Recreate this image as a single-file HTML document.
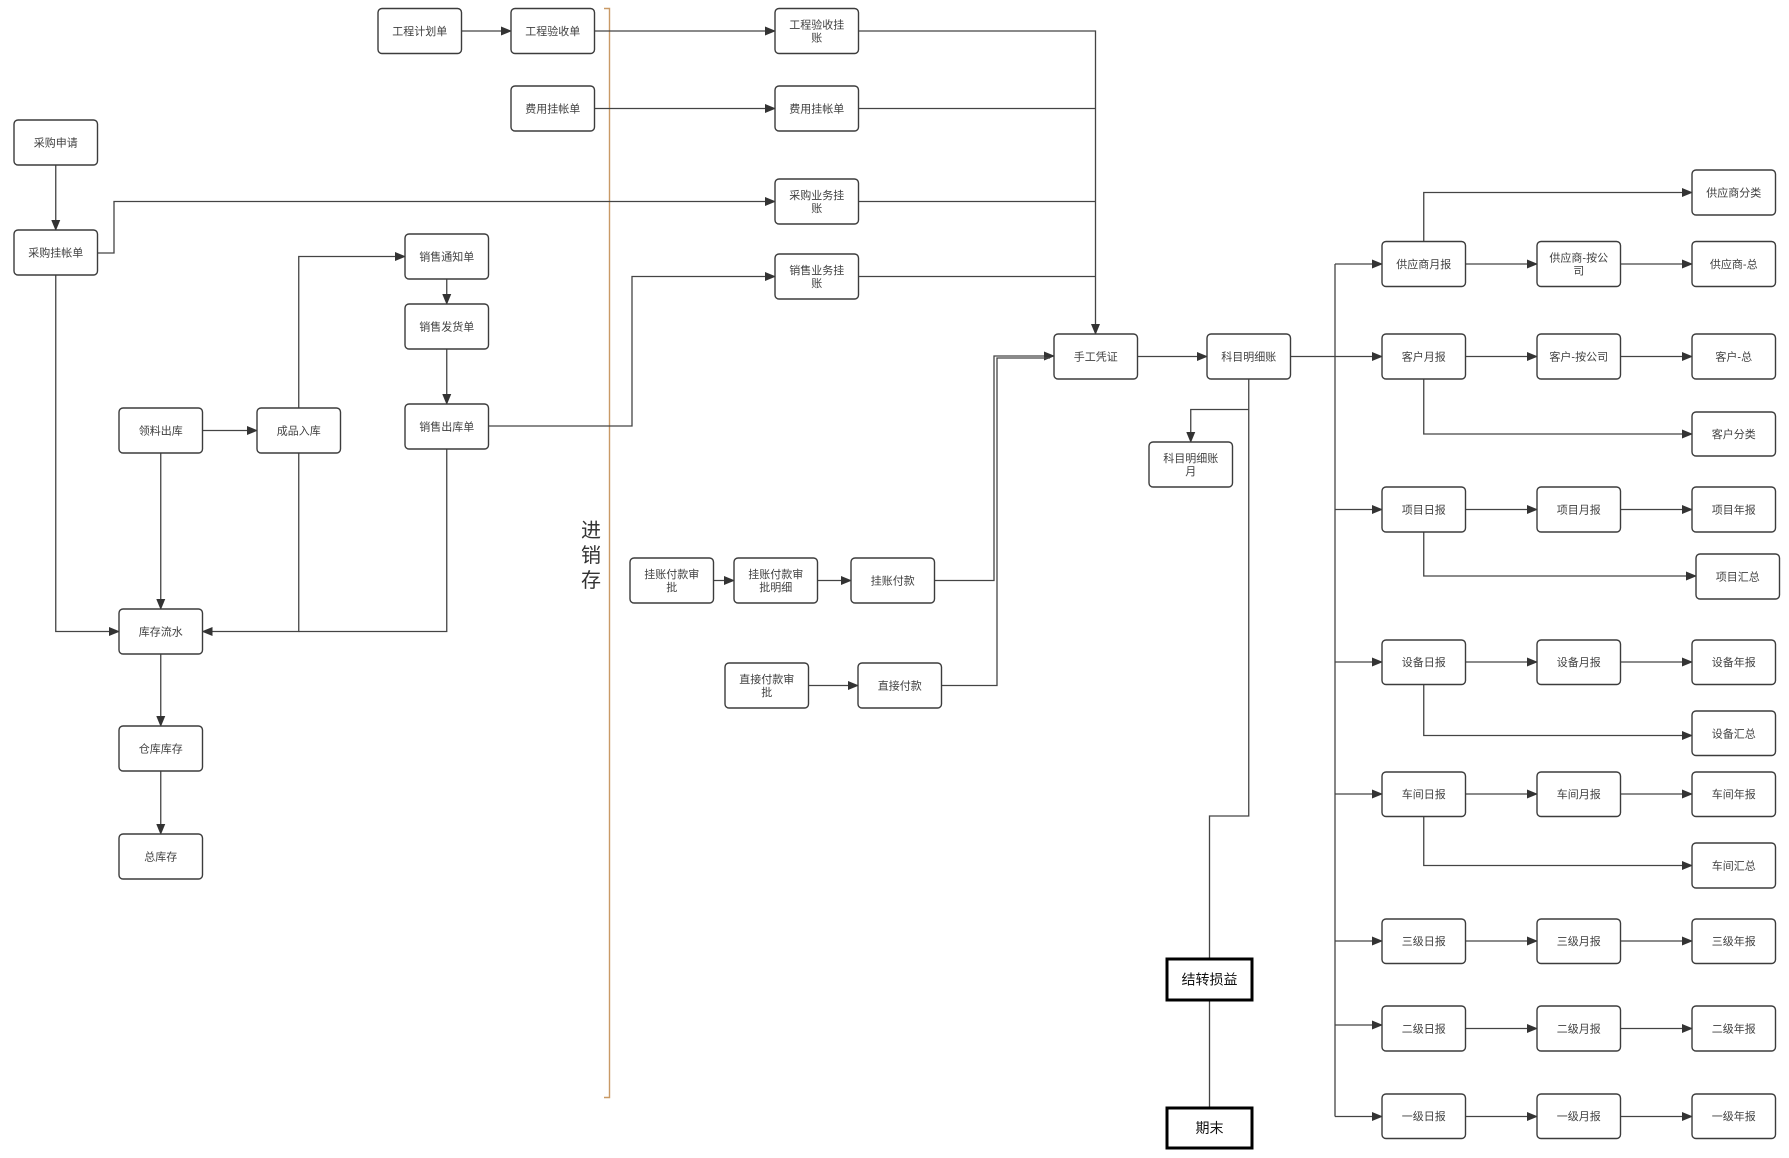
<!DOCTYPE html>
<html><head><meta charset="utf-8"><style>
html,body{margin:0;padding:0;background:#fff;}
svg{display:block;}
.b{fill:#fff;stroke:#3c3c3c;stroke-width:1.4;}
.k{fill:#fff;stroke:#000;stroke-width:3;}
.l{fill:none;stroke:#444;stroke-width:1.3;}
text{font-family:"Liberation Sans","Noto Sans CJK SC",sans-serif;font-size:11px;fill:#404040;text-anchor:middle;}
.big{font-size:14px;fill:#111;}
.jx{font-size:20px;fill:#333;}
</style></head><body>
<svg width="1789" height="1158" viewBox="0 0 1789 1158" xmlns="http://www.w3.org/2000/svg">
<defs>
<marker id="a" markerUnits="userSpaceOnUse" markerWidth="11" markerHeight="9" refX="10" refY="4.5" orient="auto">
<path d="M0,0 L11,4.5 L0,9 z" fill="#333"/>
</marker>
</defs>

<!-- orange bracket -->
<path d="M604,8.5 H609.5 V1097.5 H604" fill="none" stroke="#c99a66" stroke-width="1.4"/>
<text class="jx" x="591" y="537">进</text>
<text class="jx" x="591" y="562">销</text>
<text class="jx" x="591" y="587">存</text>

<!-- connectors -->
<g class="l">
<path d="M461,31 H511" marker-end="url(#a)"/>
<path d="M595,31 H775" marker-end="url(#a)"/>
<path d="M858.5,31 H1095.5 V334" marker-end="url(#a)"/>
<path d="M595,108.5 H775" marker-end="url(#a)"/>
<path d="M858.5,108.5 H1095.5"/>
<path d="M97.5,253 H114 V201.5 H775" marker-end="url(#a)"/>
<path d="M858.5,201.5 H1095.5"/>
<path d="M488.5,426 H632 V276.5 H775" marker-end="url(#a)"/>
<path d="M858.5,276.5 H1095.5"/>
<path d="M55.75,165 V230" marker-end="url(#a)"/>
<path d="M55.75,275 V631.5 H119" marker-end="url(#a)"/>
<path d="M202.5,430.5 H257" marker-end="url(#a)"/>
<path d="M160.75,453 V609" marker-end="url(#a)"/>
<path d="M298.75,453 V631.5 H202.5" marker-end="url(#a)"/>
<path d="M446.75,449 V631.5 H298.75"/>
<path d="M298.75,408 V256.5 H405" marker-end="url(#a)"/>
<path d="M446.75,279 V304" marker-end="url(#a)"/>
<path d="M446.75,349 V404" marker-end="url(#a)"/>
<path d="M160.75,654 V726" marker-end="url(#a)"/>
<path d="M160.75,771 V834" marker-end="url(#a)"/>
<path d="M713.5,580.5 H734" marker-end="url(#a)"/>
<path d="M817.5,580.5 H851" marker-end="url(#a)"/>
<path d="M934.5,580.5 H994 V356 H1054" marker-end="url(#a)"/>
<path d="M808.5,685.5 H858" marker-end="url(#a)"/>
<path d="M941.5,685.5 H997 V358 H1050"/>
<path d="M1137.5,356.5 H1207" marker-end="url(#a)"/>
<path d="M1290.5,356.5 H1335"/>
<path d="M1335,264 V1116.5"/>
<!-- bus arrows -->
<path d="M1335,264 H1382" marker-end="url(#a)"/>
<path d="M1335,356.5 H1382" marker-end="url(#a)"/>
<path d="M1335,509.5 H1382" marker-end="url(#a)"/>
<path d="M1335,662 H1382" marker-end="url(#a)"/>
<path d="M1335,794 H1382" marker-end="url(#a)"/>
<path d="M1335,941 H1382" marker-end="url(#a)"/>
<path d="M1335,1025 H1382" marker-end="url(#a)"/>
<path d="M1335,1116.5 H1382" marker-end="url(#a)"/>
<!-- row arrows -->
<path d="M1465.5,264 H1537" marker-end="url(#a)"/>
<path d="M1620.5,264 H1692" marker-end="url(#a)"/>
<path d="M1465.5,356.5 H1537" marker-end="url(#a)"/>
<path d="M1620.5,356.5 H1692" marker-end="url(#a)"/>
<path d="M1465.5,509.5 H1537" marker-end="url(#a)"/>
<path d="M1620.5,509.5 H1692" marker-end="url(#a)"/>
<path d="M1465.5,662 H1537" marker-end="url(#a)"/>
<path d="M1620.5,662 H1692" marker-end="url(#a)"/>
<path d="M1465.5,794 H1537" marker-end="url(#a)"/>
<path d="M1620.5,794 H1692" marker-end="url(#a)"/>
<path d="M1465.5,941 H1537" marker-end="url(#a)"/>
<path d="M1620.5,941 H1692" marker-end="url(#a)"/>
<path d="M1465.5,1028.5 H1537" marker-end="url(#a)"/>
<path d="M1620.5,1028.5 H1692" marker-end="url(#a)"/>
<path d="M1465.5,1116.5 H1537" marker-end="url(#a)"/>
<path d="M1620.5,1116.5 H1692" marker-end="url(#a)"/>
<!-- branches -->
<path d="M1423.75,241.5 V192.5 H1692" marker-end="url(#a)"/>
<path d="M1423.75,379 V434 H1692" marker-end="url(#a)"/>
<path d="M1423.75,532 V576 H1696" marker-end="url(#a)"/>
<path d="M1423.75,684.5 V735.5 H1692" marker-end="url(#a)"/>
<path d="M1423.75,816.5 V865.5 H1692" marker-end="url(#a)"/>
<path d="M1248.75,379 V816 H1209.5 V958"/>
<path d="M1248.75,409.5 H1190.75 V442" marker-end="url(#a)"/>
<path d="M1209.5,1000 V1107"/>
</g>

<!-- boxes -->
<g>
<rect class="b" x="378" y="8.5" width="83.5" height="45" rx="4"/><text x="419.75" y="35">工程计划单</text>
<rect class="b" x="511" y="8.5" width="83.5" height="45" rx="4"/><text x="552.75" y="35">工程验收单</text>
<rect class="b" x="511" y="86" width="83.5" height="45" rx="4"/><text x="552.75" y="112.5">费用挂帐单</text>
<rect class="b" x="14" y="120" width="83.5" height="45" rx="4"/><text x="55.75" y="146.5">采购申请</text>
<rect class="b" x="14" y="230" width="83.5" height="45" rx="4"/><text x="55.75" y="256.5">采购挂帐单</text>
<rect class="b" x="405" y="234" width="83.5" height="45" rx="4"/><text x="446.75" y="260.5">销售通知单</text>
<rect class="b" x="405" y="304" width="83.5" height="45" rx="4"/><text x="446.75" y="330.5">销售发货单</text>
<rect class="b" x="405" y="404" width="83.5" height="45" rx="4"/><text x="446.75" y="430.5">销售出库单</text>
<rect class="b" x="119" y="408" width="83.5" height="45" rx="4"/><text x="160.75" y="434.5">领料出库</text>
<rect class="b" x="257" y="408" width="83.5" height="45" rx="4"/><text x="298.75" y="434.5">成品入库</text>
<rect class="b" x="119" y="609" width="83.5" height="45" rx="4"/><text x="160.75" y="635.5">库存流水</text>
<rect class="b" x="119" y="726" width="83.5" height="45" rx="4"/><text x="160.75" y="752.5">仓库库存</text>
<rect class="b" x="119" y="834" width="83.5" height="45" rx="4"/><text x="160.75" y="860.5">总库存</text>

<rect class="b" x="775" y="8.5" width="83.5" height="45" rx="4"/><text x="816.75" y="28.5">工程验收挂</text><text x="816.75" y="41.5">账</text>
<rect class="b" x="775" y="86" width="83.5" height="45" rx="4"/><text x="816.75" y="112.5">费用挂帐单</text>
<rect class="b" x="775" y="179" width="83.5" height="45" rx="4"/><text x="816.75" y="199">采购业务挂</text><text x="816.75" y="212">账</text>
<rect class="b" x="775" y="254" width="83.5" height="45" rx="4"/><text x="816.75" y="274">销售业务挂</text><text x="816.75" y="287">账</text>
<rect class="b" x="1054" y="334" width="83.5" height="45" rx="4"/><text x="1095.75" y="360.5">手工凭证</text>
<rect class="b" x="1207" y="334" width="83.5" height="45" rx="4"/><text x="1248.75" y="360.5">科目明细账</text>
<rect class="b" x="1149" y="442" width="83.5" height="45" rx="4"/><text x="1190.75" y="462">科目明细账</text><text x="1190.75" y="475">月</text>
<rect class="b" x="630" y="558" width="83.5" height="45" rx="4"/><text x="671.75" y="578">挂账付款审</text><text x="671.75" y="591">批</text>
<rect class="b" x="734" y="558" width="83.5" height="45" rx="4"/><text x="775.75" y="578">挂账付款审</text><text x="775.75" y="591">批明细</text>
<rect class="b" x="851" y="558" width="83.5" height="45" rx="4"/><text x="892.75" y="584.5">挂账付款</text>
<rect class="b" x="725" y="663" width="83.5" height="45" rx="4"/><text x="766.75" y="683">直接付款审</text><text x="766.75" y="696">批</text>
<rect class="b" x="858" y="663" width="83.5" height="45" rx="4"/><text x="899.75" y="689.5">直接付款</text>

<rect class="k" x="1167" y="959" width="85" height="41"/><text class="big" x="1209.5" y="984.5">结转损益</text>
<rect class="k" x="1167" y="1108" width="85" height="40"/><text class="big" x="1209.5" y="1133">期末</text>

<!-- right grid -->
<rect class="b" x="1692" y="170" width="83.5" height="45" rx="4"/><text x="1733.75" y="196.5">供应商分类</text>
<rect class="b" x="1382" y="241.5" width="83.5" height="45" rx="4"/><text x="1423.75" y="268">供应商月报</text>
<rect class="b" x="1537" y="241.5" width="83.5" height="45" rx="4"/><text x="1578.75" y="261.5">供应商-按公</text><text x="1578.75" y="274.5">司</text>
<rect class="b" x="1692" y="241.5" width="83.5" height="45" rx="4"/><text x="1733.75" y="268">供应商-总</text>

<rect class="b" x="1382" y="334" width="83.5" height="45" rx="4"/><text x="1423.75" y="360.5">客户月报</text>
<rect class="b" x="1537" y="334" width="83.5" height="45" rx="4"/><text x="1578.75" y="360.5">客户-按公司</text>
<rect class="b" x="1692" y="334" width="83.5" height="45" rx="4"/><text x="1733.75" y="360.5">客户-总</text>
<rect class="b" x="1692" y="412" width="83.5" height="44" rx="4"/><text x="1733.75" y="438">客户分类</text>

<rect class="b" x="1382" y="487" width="83.5" height="45" rx="4"/><text x="1423.75" y="513.5">项目日报</text>
<rect class="b" x="1537" y="487" width="83.5" height="45" rx="4"/><text x="1578.75" y="513.5">项目月报</text>
<rect class="b" x="1692" y="487" width="83.5" height="45" rx="4"/><text x="1733.75" y="513.5">项目年报</text>
<rect class="b" x="1696" y="554" width="83.5" height="45" rx="4"/><text x="1737.75" y="580.5">项目汇总</text>

<rect class="b" x="1382" y="640" width="83.5" height="44.5" rx="4"/><text x="1423.75" y="666">设备日报</text>
<rect class="b" x="1537" y="640" width="83.5" height="44.5" rx="4"/><text x="1578.75" y="666">设备月报</text>
<rect class="b" x="1692" y="640" width="83.5" height="44.5" rx="4"/><text x="1733.75" y="666">设备年报</text>
<rect class="b" x="1692" y="711" width="83.5" height="44.5" rx="4"/><text x="1733.75" y="737.5">设备汇总</text>

<rect class="b" x="1382" y="772" width="83.5" height="44.5" rx="4"/><text x="1423.75" y="798">车间日报</text>
<rect class="b" x="1537" y="772" width="83.5" height="44.5" rx="4"/><text x="1578.75" y="798">车间月报</text>
<rect class="b" x="1692" y="772" width="83.5" height="44.5" rx="4"/><text x="1733.75" y="798">车间年报</text>
<rect class="b" x="1692" y="843" width="83.5" height="45" rx="4"/><text x="1733.75" y="869.5">车间汇总</text>

<rect class="b" x="1382" y="919" width="83.5" height="44.5" rx="4"/><text x="1423.75" y="945">三级日报</text>
<rect class="b" x="1537" y="919" width="83.5" height="44.5" rx="4"/><text x="1578.75" y="945">三级月报</text>
<rect class="b" x="1692" y="919" width="83.5" height="44.5" rx="4"/><text x="1733.75" y="945">三级年报</text>

<rect class="b" x="1382" y="1006" width="83.5" height="45" rx="4"/><text x="1423.75" y="1032.5">二级日报</text>
<rect class="b" x="1537" y="1006" width="83.5" height="45" rx="4"/><text x="1578.75" y="1032.5">二级月报</text>
<rect class="b" x="1692" y="1006" width="83.5" height="45" rx="4"/><text x="1733.75" y="1032.5">二级年报</text>

<rect class="b" x="1382" y="1094" width="83.5" height="44.5" rx="4"/><text x="1423.75" y="1120">一级日报</text>
<rect class="b" x="1537" y="1094" width="83.5" height="44.5" rx="4"/><text x="1578.75" y="1120">一级月报</text>
<rect class="b" x="1692" y="1094" width="83.5" height="44.5" rx="4"/><text x="1733.75" y="1120">一级年报</text>
</g>
</svg>
</body></html>
